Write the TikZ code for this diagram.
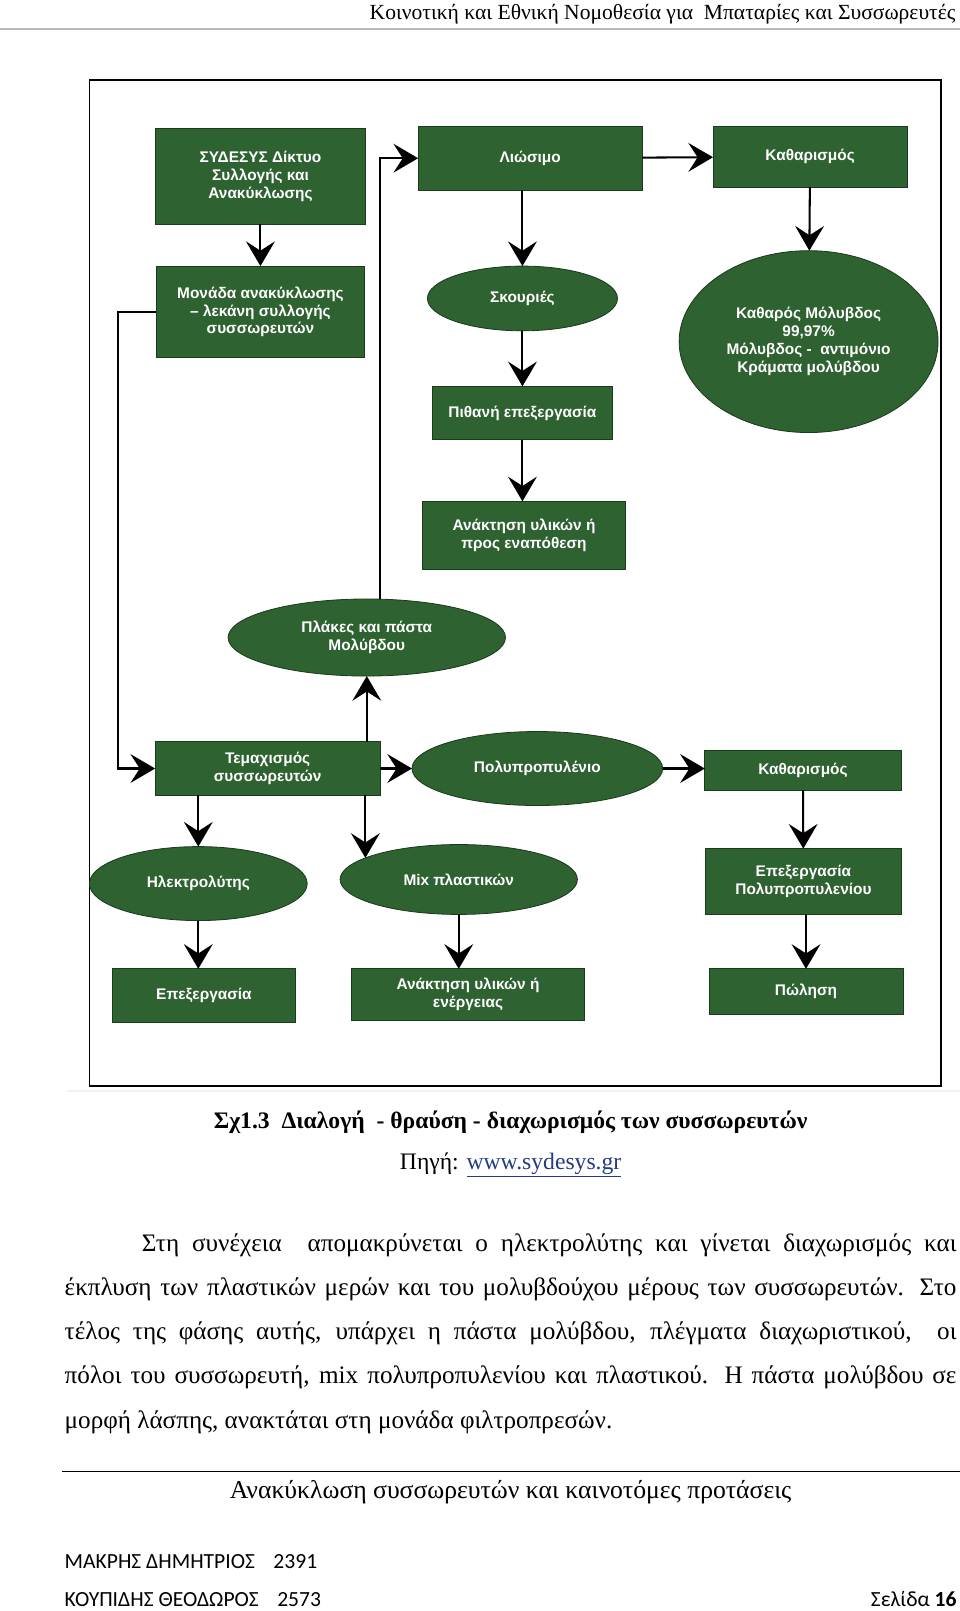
\documentclass[tikz,border=0pt]{standalone}
\usepackage{fontspec}
\setmainfont{Liberation Serif}
\setsansfont{Liberation Sans}
\newfontfamily\calfont{Carlito}
\usetikzlibrary{arrows.meta,shapes.geometric}
\definecolor{boxgreen}{RGB}{46,98,48}
\definecolor{boxline}{RGB}{28,58,30}
\definecolor{linkblue}{RGB}{36,58,130}
\newcommand{\jline}[2]{\makebox[#1][s]{#2}}
\begin{document}
\begin{tikzpicture}[x=1pt, y=-1pt, line join=miter,
    every node/.style={inner sep=0pt, outer sep=0pt},
    gbox/.style={draw=boxline, line width=0.8pt, fill=boxgreen, text=white, align=center,
      font=\sffamily\bfseries\fontsize{15}{17.5}\selectfont},
    gell/.style={gbox, ellipse},
    conn/.style={line width=2pt, -{Stealth[length=24pt, width=28pt, inset=9pt]}},
    bodytext/.style={anchor=base west, font=\fontsize{24.5}{28}\selectfont}]
    \useasboundingbox (0,0) rectangle (934,1568);
    % page head
    \node[anchor=base east, font=\fontsize{21}{24}\selectfont] (head) at (930,19) {Κοινοτική και Εθνική Νομοθεσία για\ \ Μπαταρίες και Συσσωρευτές};
    \draw[gray!55, line width=2pt] (0,28) -- (934,28);
    % frame of the figure
    \draw[line width=1.3pt] (87,78) rectangle (916,1057);
    \draw[gray!12, line width=2pt] (65,1062) -- (934,1062);
    % left column
    \node[gbox, minimum width=205, minimum height=93] (sydesys) at (253.5,171.5) {ΣΥΔΕΣΥΣ Δίκτυο\\Συλλογής και\\Ανακύκλωσης};
    \node[gbox, minimum width=203, minimum height=89] (monada) at (253.5,303.5) {Μονάδα ανακύκλωσης\\– λεκάνη συλλογής\\συσσωρευτών};
    % melting branch
    \node[gbox, minimum width=218, minimum height=62] (liosimo) at (516,154) {Λιώσιμο};
    \node[gbox, minimum width=189, minimum height=59] (kathtop) at (788.5,152.5) {Καθαρισμός};
    \node[gell, minimum width=185, minimum height=63] (skouries) at (508.5,290.5) {Σκουριές};
    \node[gell, minimum width=252, minimum height=177] (katharos) at (787,332.5) {Καθαρός Μόλυβδος\\99,97\%\\Μόλυβδος -\ \ αντιμόνιο\\Κράματα μολύβδου};
    \node[gbox, minimum width=175, minimum height=52] (pithani) at (508.5,402) {Πιθανή επεξεργασία};
    \node[gbox, minimum width=198, minimum height=66] (anaktA) at (510,521) {Ανάκτηση υλικών ή\\προς εναπόθεση};
    % breaking
    \node[gell, minimum width=270, minimum height=75] (plakes) at (357,620.5) {Πλάκες και πάστα\\Μολύβδου};
    \node[gbox, minimum width=219, minimum height=52] (temax) at (260.5,748) {Τεμαχισμός\\συσσωρευτών};
    \node[gell, minimum width=244, minimum height=72] (polyp) at (523,748) {Πολυπροπυλένιο};
    \node[gbox, minimum width=191, minimum height=39] (kathbot) at (781.5,749.5) {Καθαρισμός};
    \node[gell, minimum width=212, minimum height=72] (ilektro) at (193,860) {Ηλεκτρολύτης};
    \node[gell, minimum width=231, minimum height=68] (mix) at (446.5,856) {Mix πλαστικών};
    \node[gbox, minimum width=190, minimum height=64] (epexpol) at (782,858) {Επεξεργασία\\Πολυπροπυλενίου};
    \node[gbox, minimum width=179, minimum height=52] (epex) at (198.5,969) {Επεξεργασία};
    \node[gbox, minimum width=227, minimum height=50] (anaktB) at (455.5,968) {Ανάκτηση υλικών ή\\ενέργειας};
    \node[gbox, minimum width=189, minimum height=44] (polisi) at (784.5,965) {Πώληση};
    % connectors
    \draw[conn] (sydesys) -- (monada);
    \draw[conn] (monada.west) -- ++(-37,0) |- (temax.west);
    \draw[conn] (liosimo) -- (kathtop);
    \draw[conn] (skouries |- liosimo.south) -- (skouries.north);
    \draw[conn] (skouries) -- (pithani);
    \draw[conn] (pithani.south) -- (pithani.south |- anaktA.north);
    \draw[conn] (kathtop) -- (katharos);
    \draw[conn] ([xshift=13pt]plakes.north) |- (liosimo.west);
    \draw[conn] (plakes.south |- temax.north) -- (plakes.south);
    \draw[conn] (temax) -- (polyp);
    \draw[conn] (polyp.east) -- (polyp.east -| kathbot.west);
    \draw[conn] (ilektro.north |- temax.south) -- (ilektro.north);
    \draw[conn] (mix.167 |- temax.south) -- (mix.167);
    \draw[conn] (kathbot) -- (epexpol);
    \draw[conn] (polisi.north |- epexpol.south) -- (polisi.north);
    \draw[conn] (ilektro.south) -- (ilektro.south |- epex.north);
    \draw[conn] (mix.south) -- (mix.south |- anaktB.north);
    % caption
    \node[anchor=base, font=\bfseries\fontsize{23}{27}\selectfont] (caption) at (497,1098) {Σχ1.3\ \ Διαλογή\ \ - θραύση - διαχωρισμός των συσσωρευτών};
    \node[anchor=base, font=\fontsize{23}{27}\selectfont] (source) at (497,1138) {Πηγή: \textcolor{linkblue}{\underline{www.sydesys.gr}}};
    % body text
    \node[bodytext] (parA) at (138,1218) {\jline{793pt}{Στη συνέχεια\ \ απομακρύνεται ο ηλεκτρολύτης και γίνεται διαχωρισμός και}};
    \node[bodytext] (parB) at (63,1261) {\jline{868pt}{έκπλυση των πλαστικών μερών και του μολυβδούχου μέρους των συσσωρευτών. Στο}};
    \node[bodytext] (parC) at (63,1304) {\jline{868pt}{τέλος της φάσης αυτής, υπάρχει η πάστα μολύβδου, πλέγματα διαχωριστικού,\ \ οι}};
    \node[bodytext] (parD) at (63,1347) {\jline{868pt}{πόλοι του συσσωρευτή, mix πολυπροπυλενίου και πλαστικού. Η πάστα μολύβδου σε}};
    \node[bodytext] (parE) at (63,1390) {μορφή λάσπης, ανακτάται στη μονάδα φιλτροπρεσών.};
    % page foot
    \draw[line width=1.2pt] (60,1432) -- (934,1432);
    \node[anchor=base, font=\fontsize{25}{30}\selectfont] (foot) at (497,1458) {Ανακύκλωση συσσωρευτών και καινοτόμες προτάσεις};
    \node[anchor=base west, font=\calfont\fontsize{21}{24}\selectfont] (nameA) at (63,1527) {ΜΑΚΡΗΣ ΔΗΜΗΤΡΙΟΣ\hspace{18pt}2391};
    \node[anchor=base west, font=\calfont\fontsize{21}{24}\selectfont] (nameB) at (63,1564) {ΚΟΥΠΙΔΗΣ ΘΕΟΔΩΡΟΣ\hspace{18pt}2573};
    \node[anchor=base east, font=\calfont\fontsize{21}{24}\selectfont] (page) at (931,1564) {Σελίδα \textbf{16}};
\end{tikzpicture}
\end{document}
